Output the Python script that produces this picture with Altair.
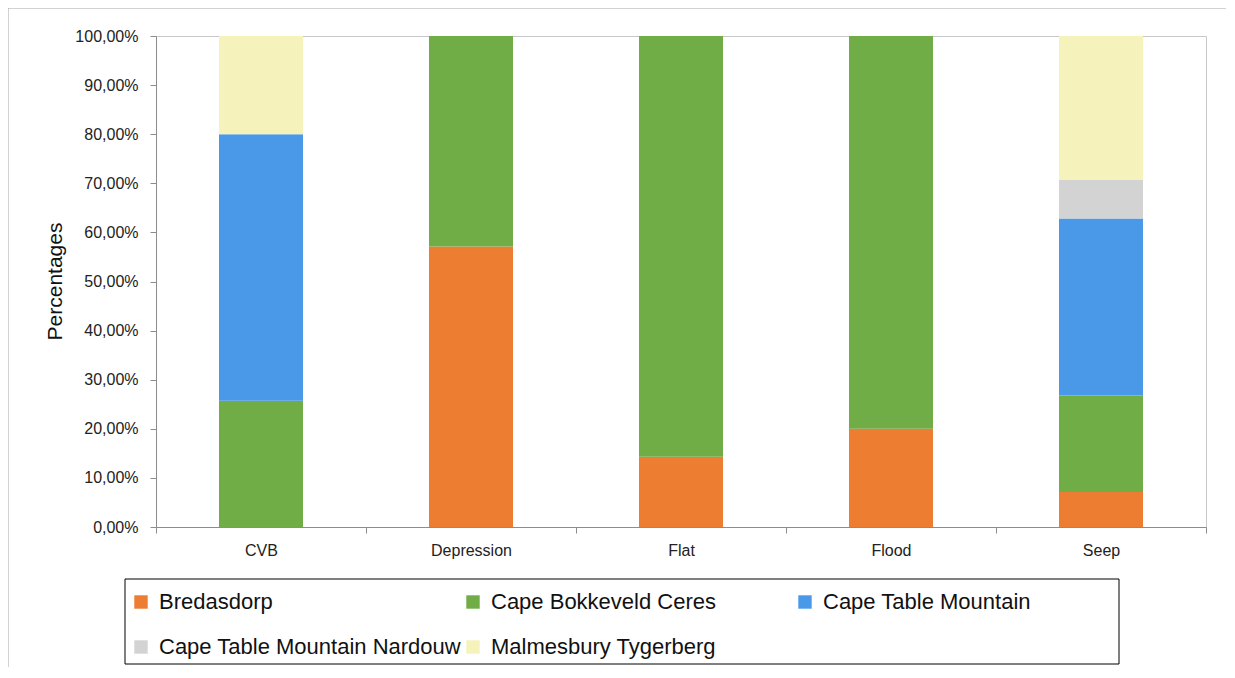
import altair as alt
import pandas as pd

categories = ["CVB", "Depression", "Flat", "Flood", "Seep"]
series = ["Bredasdorp", "Cape Bokkeveld Ceres", "Cape Table Mountain",
          "Cape Table Mountain Nardouw", "Malmesbury Tygerberg"]
colors = ["#ED7D31", "#70AD47", "#4A99E9", "#D3D3D3", "#F5F2BC"]

bredasdorp = [0.0, 57.14, 14.29, 20.0, 7.14]
bokkeveld = [25.71, 42.86, 85.71, 80.0, 19.64]
table_mountain = [54.29, 0.0, 0.0, 0.0, 36.07]
nardouw = [0.0, 0.0, 0.0, 0.0, 7.86]
malmesbury = [20.0, 0.0, 0.0, 0.0, 29.29]

values = [bredasdorp, bokkeveld, table_mountain, nardouw, malmesbury]
rows = []
for si, (s, vals) in enumerate(zip(series, values)):
    for c, v in zip(categories, vals):
        if v > 0:
            rows.append({"cat": c, "series": s, "value": v, "order": si})
df = pd.DataFrame(rows)

FONT = "Liberation Sans"

frame_df = pd.DataFrame({"a": [0]})
legend_box = alt.Chart(frame_df).mark_rect(fill="#fff", stroke="#000", strokeWidth=1).encode(
    x=alt.value(-31), x2=alt.value(963), y=alt.value(543), y2=alt.value(628))

bars = alt.Chart(df).mark_bar(opacity=1, width=alt.RelativeBandSize(0.4)).encode(
    x=alt.X("cat:N", sort=categories, title=None,
            scale=alt.Scale(paddingInner=0, paddingOuter=0),
            axis=alt.Axis(labelAngle=0, tickBand="extent", tickSize=6,
                          labelPadding=9, labelFontSize=16, labelFont=FONT,
                          labelColor="#222", domainColor="#8c8c8c", tickColor="#8c8c8c")),
    y=alt.Y("value:Q", stack="zero", title="Percentages",
            scale=alt.Scale(domain=[0, 100], nice=False),
            axis=alt.Axis(values=list(range(0, 101, 10)), grid=False, tickSize=6,
                          labelExpr="replace(format(datum.value, '.2f'), '.', ',') + '%'",
                          labelFontSize=16, labelFont=FONT, labelColor="#222", labelPadding=12,
                          domainColor="#8c8c8c", tickColor="#8c8c8c",
                          titleFontSize=21, titleFont=FONT, titleFontWeight="normal",
                          titleColor="#111", titleX=-101, titleY=245, titleAngle=270,
                          titleAlign="center", titleBaseline="middle")),
    color=alt.Color("series:N", sort=series,
                    scale=alt.Scale(domain=series, range=colors),
                    legend=alt.Legend(title=None, orient="none", legendX=-34, legendY=547,
                                      columns=3, direction="horizontal", symbolType="square",
                                      symbolSize=180, symbolStrokeWidth=0,
                                      labelFontSize=22, labelFont=FONT, labelColor="#111",
                                      labelLimit=400, labelOffset=7, columnPadding=0,
                                      rowPadding=23, gridAlign="all", padding=8)),
    order=alt.Order("order:Q", sort="ascending"),
)

top_line = alt.Chart(frame_df).mark_rule(color="#a6a6a6").encode(
    x=alt.value(-148), x2=alt.value(1079), y=alt.value(-28))
left_line = alt.Chart(frame_df).mark_rule(color="#a6a6a6").encode(
    x=alt.value(-148), y=alt.value(-28), y2=alt.value(642))

chart = alt.layer(legend_box, bars, top_line, left_line).properties(
    width=1050, height=491,
    autosize=alt.AutoSizeParams(type="none"),
    padding={"left": 148, "top": 28, "right": 20, "bottom": 140},
).configure_view(stroke="#c8c8c8")

chart.save("out.html", embed_options={"renderer": "svg", "actions": False})
